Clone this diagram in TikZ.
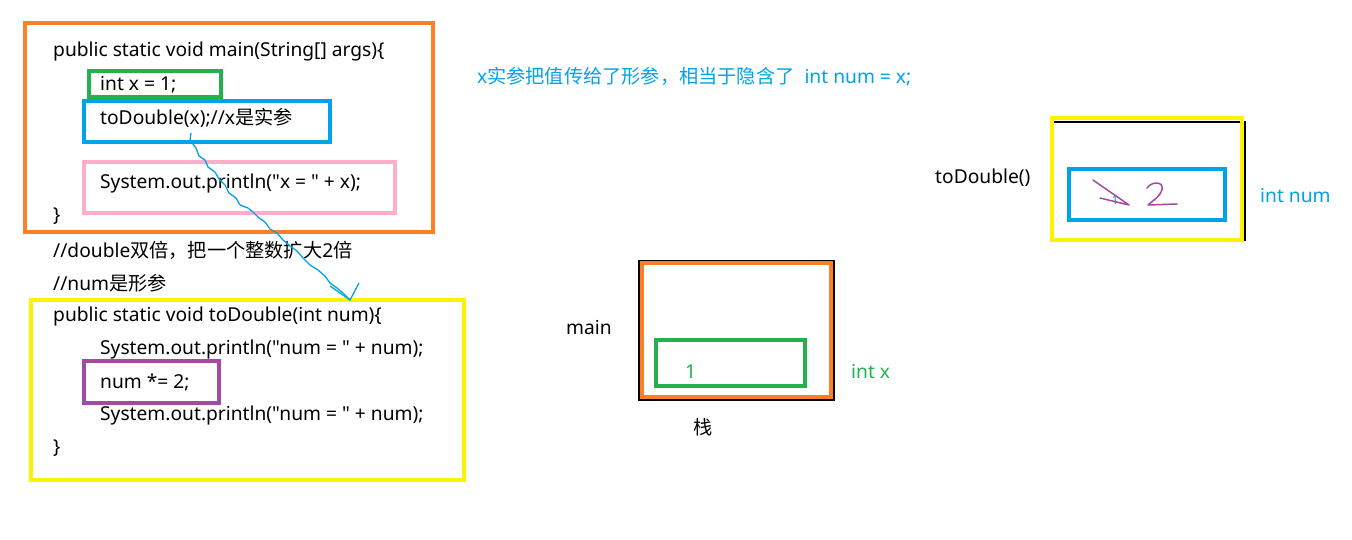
\documentclass[tikz,border=0pt]{standalone}
\usepackage{fontspec}
\setmainfont{Noto Sans}[Ligatures=TeXOff]
\newfontfamily\cjk{Noto Sans CJK SC}[Ligatures=TeXOff]
\definecolor{porange}{HTML}{FF7F27}
\definecolor{pgreen}{HTML}{22B14C}
\definecolor{pblue}{HTML}{00A2E8}
\definecolor{ppink}{HTML}{FFAEC9}
\definecolor{pyellow}{HTML}{FFF200}
\definecolor{ppurple}{HTML}{A349A4}
\newcommand{\qq}{\char"0022\relax}
\begin{document}
\begin{tikzpicture}[x=1pt,y=-1pt,
  txt/.style={anchor=west,inner sep=0pt,font=\fontsize{19.2}{22}\selectfont},
  thick box/.style={line width=4.5pt},
  thin frame/.style={line width=1.5pt,draw=black}]
\useasboundingbox[fill=white] (0,0) rectangle (1352,539);

% ---- code: main
\draw[thick box,porange] (25,23) rectangle (433,232);
\draw[thick box,pgreen] (89,71) rectangle (221,97);
\draw[thick box,pblue] (84,101) rectangle (330,142);
\draw[thick box,ppink] (84,162) rectangle (395,213);
\node[txt] (m1) at (53,52) {public static void main(String[] args)\{};
\node[txt] (m2) at (100,85) {int x = 1;};
\node[txt] (m3) at (100,118) {toDouble(x);//x{\cjk 是实参}};
\node[txt] (m4) at (100,184) {System.out.println(\qq x = \qq\ + x);};
\node[txt] (m5) at (53,216) {\}};
\node[txt] (c1) at (53,250) {//double{\cjk 双倍，把一个整数扩大}2{\cjk 倍}};
\node[txt] (c2) at (53,283) {//num{\cjk 是形参}};

% ---- code: toDouble
\draw[thick box,pyellow] (31,300) rectangle (464,480);
\draw[thick box,ppurple] (84,361) rectangle (219,403);
\node[txt] (t1) at (53,316) {public static void toDouble(int num)\{};
\node[txt] (t2) at (100,349) {System.out.println(\qq num = \qq\ + num);};
\node[txt] (t3) at (100,382) {num *= 2;};
\node[txt] (t4) at (100,415) {System.out.println(\qq num = \qq\ + num);};
\node[txt] (t5) at (53,448) {\}};

% ---- hand-drawn arrow
\coordinate (a0) at (191,133);
\coordinate (a1) at (350,300);
\draw[pblue,line width=1.3pt,line join=round] (a0) -- (190,140) -- (196,148) -- (199,156) -- (205,160) -- (208,167)
  -- (215,172) -- (219,179) -- (225,185) -- (229,193) -- (236,198) -- (240,205) -- (248,208) -- (253,212)
  -- (259,218) -- (265,222) -- (270,229) -- (277,233) -- (283,240) -- (290,246) -- (297,251) -- (303,258)
  -- (310,265) -- (318,270) -- (325,276) -- (330,283) -- (337,288) -- (343,293) -- (a1);
\draw[pblue,line width=1.3pt] (330,286) -- (a1) -- (359,283);

% ---- annotation
\node[txt,text=pblue] (note) at (477,77) {x{\cjk 实参把值传给了形参，相当于隐含了}~~int num = x;};

% ---- stack frame main
\draw[thin frame] (639,261) rectangle (834,400);
\draw[thick box,porange] (642,263) rectangle (831,397);
\draw[thick box,pgreen] (656,340) rectangle (805,386);
\node[txt,text=pgreen] (v1) at (685,372) {1};
\node[txt,text=pgreen] (ix) at (851,372) {int x};
\node[txt] (mn) at (566,328) {main};
\node[txt] (stk) at (693,427) {\cjk 栈};

% ---- stack frame toDouble
\draw[thin frame] (1052,122) rectangle (1245,240);
\draw[thick box,pyellow] (1052,118) rectangle (1242,240);
\draw[thick box,pblue] (1069,169) rectangle (1225,220);
\node[txt] (td) at (935,178) {toDouble()};
\node[txt,text=pblue] (inum) at (1260,196) {int num};
\node[inner sep=0pt,text=pblue,font=\fontsize{12}{13}\selectfont] (one) at (1115,200) {1};
\draw[ppurple,line width=1.5pt,line cap=round,line join=round] (1093,180) -- (1129,205) -- (1100,198);
\draw[ppurple,line width=1.5pt,line cap=round,line join=round]
  (1147,188) .. controls (1152,181) and (1164,181) .. (1162,190)
  .. controls (1160,197) and (1152,201) .. (1148,205) -- (1177,204);
\end{tikzpicture}
\end{document}
